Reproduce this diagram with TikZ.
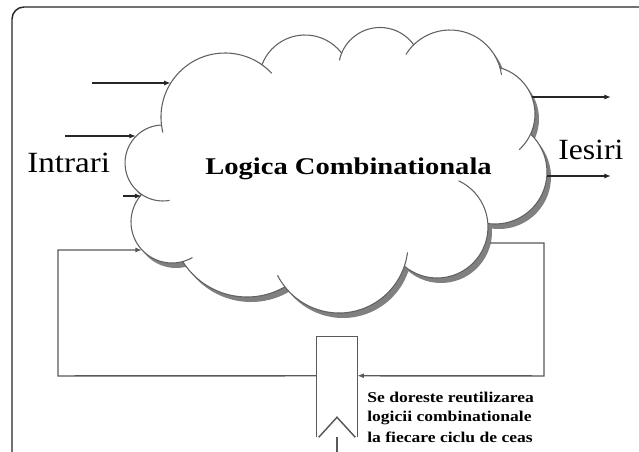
\documentclass[tikz,border=0pt]{standalone}
\usepackage{fontspec}
\setmainfont{Liberation Serif}
\usetikzlibrary{arrows.meta,calc}
\newcommand\mycloudpath{%
 ($(163,163)+(124.1:38)$) arc[start angle=124.1,end angle=267.7,radius=38]
 -- ($(225,117)+(172.8:64)$) arc[start angle=172.8,end angle=305.2,radius=64]
 -- ($(305,81)+(200.7:46)$) arc[start angle=200.7,end angle=323,radius=46]
 -- ($(380,69)+(202.3:41.5)$) arc[start angle=202.3,end angle=324.3,radius=41.5]
 -- ($(450,82)+(225.7:52)$) arc[start angle=225.7,end angle=344,radius=52]
 -- ($(487,114)+(285.7:48)$) arc[start angle=285.7,end angle=384.9,radius=48]
 -- ($(495,172)+(313.2:52)$) arc[start angle=313.2,end angle=457.8,radius=52]
 -- ($(437,227)+(356.1:51)$) arc[start angle=356.1,end angle=489.9,radius=51]
 -- ($(339,244)+(18.7:69)$) arc[start angle=18.7,end angle=141.6,radius=69]
 -- ($(247,221)+(60.1:76)$) arc[start angle=60.1,end angle=147.7,radius=76]
 -- ($(172,222)+(74.9:41)$) arc[start angle=74.9,end angle=222.2,radius=41]
 -- cycle}
\begin{document}
\begin{tikzpicture}[x=0.75pt,y=-0.75pt,
  cloudline/.style={draw=black!62,line width=0.8pt},
  arr/.style={draw=black!85,line width=1pt,-{Latex[length=5pt,width=3.8pt]}},
  fbline/.style={draw=black!65,line width=1.1pt},
  fbarr/.style={fbline,-{Latex[length=5pt,width=3.8pt]}},
  bigtxt/.style={font=\fontsize{22}{26}\selectfont,anchor=base west,inner sep=0pt},
  midtxt/.style={font=\fontsize{18}{22}\selectfont\bfseries,anchor=base west,inner sep=0pt,xscale=1.19},
  notetxt/.style={font=\fontsize{11.25}{15}\selectfont\bfseries,anchor=base west,inner sep=0pt,xscale=1.17}]
\useasboundingbox (0,0) rectangle (639,452);
\clip (0,0) rectangle (639,452);
\fill[white] (0,0) rectangle (639,452);
% frame
\draw[black!85,line width=1.1pt,rounded corners=9] (12,470) -- (12,7) -- (660,7);
% cloud
\fill[black!50,shift={(4,5)}] \mycloudpath;
\fill[white] \mycloudpath;
\foreach \cx/\cy/\rr/\sa/\ea in {163/163/38/80/267.7, 225/117/64/166/317, 305/81/46/200.7/323, 380/69/41.5/192/324.3, 450/82/52/212/352, 487/114/48/285.7/408, 495/172/52/313.2/457.8, 437/227/51/295/489.9, 339/244/69/7/153, 247/221/76/60.1/147.7, 172/222/41/60/222.2}
  \draw[cloudline] ($(\cx,\cy)+(\sa:\rr)$) arc[start angle=\sa,end angle=\ea,radius=\rr];
% texts
\node[bigtxt,xscale=1.13] (intrari) at (27,173) {Intrari};
\node[bigtxt,xscale=1.08] (iesiri) at (558,160) {Iesiri};
\node[midtxt] (logica) at (205,175) {Logica Combinationala};
\node[notetxt] (note1) at (367,402) {Se doreste reutilizarea};
\node[notetxt] (note2) at (367,421) {logicii combinationale};
\node[notetxt] (note3) at (367,442) {la fiecare ciclu de ceas};
% cloud attachment points
\coordinate (in1s) at (92,83);   \coordinate (in1) at (170.8,83);
\coordinate (in2s) at (65,136);  \coordinate (in2) at (136,136);
\coordinate (in3s) at (123,196); \coordinate (in3) at (141.5,196);
\coordinate (out1) at (532,97);  \coordinate (out1e) at (611,97);
\coordinate (out2) at (547,176); \coordinate (out2e) at (611,176);
\coordinate (cloudout) at (490,243);
\coordinate (cloudin) at (142,250);
\draw[arr] (in1s) -- (in1);
\draw[arr] (in2s) -- (in2);
\draw[arr] (in3s) -- (in3);
\draw[arr] (out1) -- (out1e);
\draw[arr] (out2) -- (out2e);
% register
\node[minimum width=30pt,minimum height=75pt,inner sep=0pt] (reg) at (337,387) {};
\coordinate (regin) at ($(reg.north east)+(0,39)$);
\coordinate (regout) at ($(reg.north west)+(0,39)$);
\coordinate (clk) at (337,460);
\draw[fbline] (reg.south west) -- (reg.north west) -- (reg.north east) -- (reg.south east);
\draw[fbline] ($(reg.south west)+(2,0)$) -- ($(reg.south)+(0,-20)$) -- ($(reg.south east)+(-2,0)$);
\draw[fbline] (reg.south) -- (clk);
% feedback
\draw[fbarr] (cloudout) -- (544,243) -- (544,376) -- (regin);
\draw[fbarr] (regout) -- (58,376) -- (58,250) -- (cloudin);
\end{tikzpicture}
\end{document}
